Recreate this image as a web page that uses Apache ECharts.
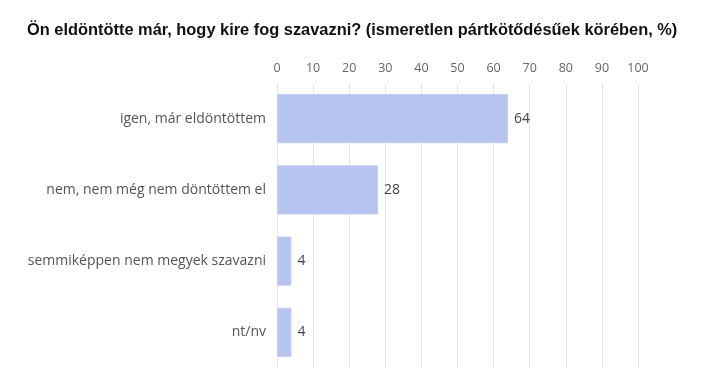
<!DOCTYPE html>
<html>
<head>
<meta charset="utf-8">
<script src="https://cdn.jsdelivr.net/npm/echarts@6/dist/echarts.min.js"></script>
<style>
html,body{margin:0;padding:0;background:#fff;}
#c{width:720px;height:391px;}
</style>
</head>
<body>
<div id="c"></div>
<script>
const titleText = "Ön eldöntötte már, hogy kire fog szavazni? (ismeretlen pártkötődésűek körében, %)";
const categories = ["igen, már eldöntöttem", "nem, nem még nem döntöttem el", "semmiképpen nem megyek szavazni", "nt/nv"];
const values = [64, 28, 4, 4];

const chart = echarts.init(document.getElementById('c'), null, {renderer: 'canvas'});
chart.setOption({
  animation: false,
  backgroundColor: '#fff',
  title: {
    text: titleText,
    left: 22, top: 17,
    textStyle: {fontFamily: 'Liberation Sans, Arial, sans-serif', fontWeight: 'bold', fontSize: 16.4, color: '#111'}
  },
  grid: {left: 277, right: 82, top: 83, bottom: 23, containLabel: false},
  xAxis: {
    type: 'value', position: 'top', min: 0, max: 100, interval: 10,
    axisLine: {show: false}, axisTick: {show: false},
    axisLabel: {color: '#666', fontSize: 12.5, margin: 8, fontFamily: 'Open Sans, Lato, sans-serif'},
    splitLine: {show: true, lineStyle: {color: '#e4e4e4', width: 1}}
  },
  yAxis: {
    type: 'category', data: categories, inverse: true,
    axisLine: {show: false}, axisTick: {show: false},
    axisLabel: {color: '#555', fontSize: 14, margin: 11, fontFamily: 'Open Sans, Lato, sans-serif'}
  },
  series: [{
    type: 'bar', data: values, barCategoryGap: '31%',
    itemStyle: {color: '#b6c3ef', borderColor: '#c4cff3', borderWidth: 1},
    label: {show: true, position: 'right', distance: 6, color: '#444', fontSize: 14, fontFamily: 'Open Sans, Lato, sans-serif'}
  }]
});
</script>
</body>
</html>
